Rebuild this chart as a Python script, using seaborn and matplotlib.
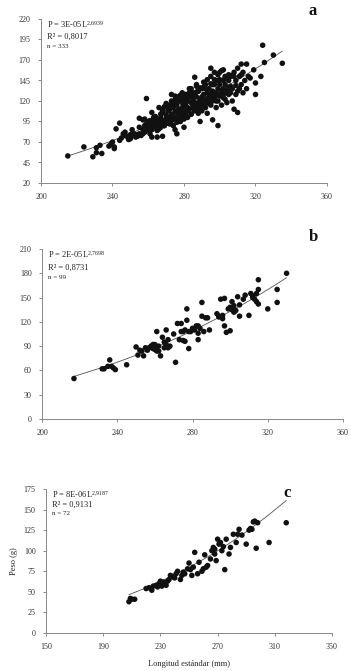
import numpy as np
import pandas as pd
import matplotlib
matplotlib.use("Agg")
import matplotlib.pyplot as plt
import seaborn as sns

# ---------------- data ----------------
# Panel a (n = 333)
a_len = [215,224,229,231,231,233,234,238,239,240,241,241,242,244,244,245,246,247,248,249,250,250,251,252,253,254,255,255,256,257,257,258,258,259,259,260,260,260,261,261,262,262,262,263,263,264,264,265,265,265,266,266,267,267,268,268,268,269,269,270,270,271,271,272,272,273,273,273,274,274,274,275,275,275,276,276,276,277,277,277,277,278,278,278,279,279,279,280,280,280,280,281,281,281,282,282,282,283,283,283,284,284,284,285,285,286,286,286,286,287,287,287,288,288,288,289,289,289,290,290,290,291,291,292,292,292,293,293,293,294,294,295,295,295,296,296,296,297,297,297,298,298,298,299,299,299,300,300,300,301,301,302,302,302,303,303,304,304,305,305,306,306,307,307,308,308,309,309,310,310,311,311,312,312,313,313,314,315,315,316,317,319,320,320,323,324,325,330,335,
         258,259,260,261,262,263,264,265,266,267,268,269,270,271,272,273,274,275,276,277,278,279,280,281,282,283,284,285,286,287,288,289,290,291,292,293,294,295,296,297,298,299,300,301,302,303,304,305,
         261,263,265,267,269,271,273,275,277,279,281,283,285,287,289,291,293,295,297,299,301,303,305,307,309,
         247,249,251,253,255,257,259,262,264,266,268,270,272,274,276,278,280,282,284,286,288,290,292,294,296,298,300,302,304,306,308,310,312]
a_wt = [53,64,52,57,63,66,56,65,67,70,62,64,86,93,72,75,80,78,77,76,74,79,78,80,79,77,80,99,78,80,97,82,90,84,123,86,90,94,88,96,76,85,92,89,100,90,94,87,98,76,92,97,100,88,95,106,77,113,90,98,103,93,108,100,110,96,104,128,90,112,118,100,107,85,80,115,125,98,104,110,120,95,108,127,100,112,118,88,105,115,122,108,117,128,100,112,120,110,125,130,104,118,135,112,122,108,118,128,149,115,125,138,105,118,132,112,122,95,108,125,135,118,128,112,122,140,105,118,130,125,135,115,128,160,120,132,97,125,140,155,112,130,145,120,135,90,128,140,155,115,130,135,145,158,122,140,118,132,128,145,138,150,120,135,155,110,128,145,160,106,135,150,140,165,130,155,145,165,135,150,148,158,128,142,150,188,167,176,166,
        98,84,95,80,106,89,101,84,112,93,108,90,117,97,92,120,102,126,94,121,103,130,98,125,108,135,104,130,112,140,110,136,115,143,118,146,117,150,122,146,120,152,126,157,124,150,130,152,
        88,97,85,104,96,113,99,121,107,124,103,127,115,131,118,137,123,141,127,145,133,148,136,151,139,
        82,73,85,76,88,85,92,88,98,86,110,95,115,98,118,100,128,110,126,113,132,119,135,121,140,127,146,128,148,130,150,132,152]

# Panel b (n = 99)
b_len = [217,232,233,235,236,237,238,239,245,250,251,252,253,254,255,256,257,258,259,260,260,261,261,262,263,264,265,266,266,267,267,270,271,272,273,274,274,275,276,276,277,277,278,278,280,281,282,283,283,284,285,285,286,287,288,289,293,294,295,296,296,297,297,298,299,300,300,301,302,302,303,304,305,305,307,308,310,311,312,313,314,314,315,315,315,320,325,325,330,
         259,262,265,268,275,279,283,294,301,312]
b_wt = [50,62,62,65,73,65,63,61,67,89,79,85,84,78,88,85,88,90,87,86,92,108,84,90,78,101,88,92,110,98,88,105,70,118,98,118,108,97,110,96,136,122,87,108,112,110,115,106,98,112,127,144,108,125,125,110,130,126,148,124,128,149,115,107,136,109,138,145,132,140,134,151,127,141,148,153,128,155,150,148,155,145,160,172,142,136,160,144,180,
        92,84,95,90,108,108,115,127,135,152]

# Panel c (n = 72)
c_len = [208,209,210,212,220,222,224,225,228,229,230,231,232,233,234,235,236,237,238,240,241,242,244,245,246,249,250,251,252,253,254,256,257,259,260,261,262,265,266,267,268,268,269,270,271,272,273,274,275,276,278,279,281,283,284,285,290,292,293,294,295,296,297,298,306,318,
         227,231,239,247,263,287]
c_wt = [38,42,41,41,54,55,52,57,56,60,63,57,62,60,58,63,65,70,69,67,72,75,65,70,74,78,85,77,70,80,98,72,86,75,78,95,80,90,100,104,96,102,88,114,108,110,100,105,77,114,96,104,120,110,120,126,108,125,127,126,135,136,103,134,110,134,
        58,61,68,72,82,119]

tick_a_x = [200, 240, 280, 320, 360]
tick_a_y = [20, 45, 70, 95, 120, 145, 170, 195, 220]
tick_b_x = [200, 240, 280, 320, 360]
tick_b_y = [0, 30, 60, 90, 120, 150, 180, 210]
tick_c_x = [150, 190, 230, 270, 310, 350]
tick_c_y = [0, 25, 50, 75, 100, 125, 150, 175]

eq_a = ["P = 3E-05L$^{2{,}6939}$", "R\u00b2 = 0,8017", "n = 333"]
eq_b = ["P = 2E-05L$^{2{,}7698}$", "R\u00b2 = 0,8731", "n = 99"]
eq_c = ["P = 8E-06L$^{2{,}9187}$", "R\u00b2 = 0,9131", "n = 72"]

# ---------------- style ----------------
sns.set_style("ticks")
plt.rcParams["font.family"] = ["Liberation Serif", "DejaVu Serif"]
plt.rcParams["mathtext.fontset"] = "custom"
plt.rcParams["mathtext.rm"] = "Liberation Serif"
plt.rcParams["mathtext.it"] = "Liberation Serif:italic"
plt.rcParams["mathtext.bf"] = "Liberation Serif:bold"

fig = plt.figure(figsize=(3.51, 6.71), dpi=100)

W, H = 351.0, 671.0
def ax_px(left, right, top, bottom):
    return fig.add_axes([left / W, 1 - bottom / H, (right - left) / W, (bottom - top) / H])

ax_a = ax_px(41, 327, 19, 183)
ax_b = ax_px(42, 343, 249, 419)
ax_c = ax_px(46, 332, 489, 633)

def panel(ax, xs, ys, xt, yt, eq, letter, letter_pos, fit_override=None):
    df = pd.DataFrame({"L": xs, "P": ys})
    sns.scatterplot(data=df, x="L", y="P", ax=ax, s=16, color="#111111",
                    edgecolor="none", linewidth=0, legend=False, zorder=3)
    # power regression in log space
    lx = np.log(df["L"].values); ly = np.log(df["P"].values)
    b, lnk = np.polyfit(lx, ly, 1)
    if fit_override is not None:
        k, b = fit_override
        lnk = np.log(k)
    xf = np.sort(np.unique(df["L"].values))
    fit = pd.DataFrame({"L": xf, "P": np.exp(lnk) * xf ** b})
    sns.lineplot(data=fit, x="L", y="P", ax=ax, color="#555555", linewidth=0.6, zorder=2)
    ax.set_xlim(xt[0], xt[-1]); ax.set_ylim(yt[0], yt[-1])
    ax.set_xticks(xt); ax.set_yticks(yt)
    ax.tick_params(axis="both", labelsize=5.8, length=2.5, width=0.6,
                   colors="#777777", labelcolor="#333333", pad=5)
    for s in ["top", "right"]:
        ax.spines[s].set_visible(False)
    for s in ["left", "bottom"]:
        ax.spines[s].set_color("#888888")
        ax.spines[s].set_linewidth(0.7)
    ax.set_xlabel(""); ax.set_ylabel("")
    ax.text(0.02, 1.0, eq[0], transform=ax.transAxes, fontsize=6, va="top", ha="left", color="#222222")
    ax.text(0.02, 0.915, eq[1], transform=ax.transAxes, fontsize=6, va="top", ha="left", color="#222222")
    ax.text(0.02, 0.845, eq[2], transform=ax.transAxes, fontsize=5, va="top", ha="left", color="#222222")
    ax.text(letter_pos[0], letter_pos[1], letter, transform=fig.transFigure,
            fontsize=12, fontweight="bold", ha="center", va="center", color="#111111")

panel(ax_a, a_len, a_wt, tick_a_x, tick_a_y, eq_a, "a", (313 / W, 1 - 11 / H))
panel(ax_b, b_len, b_wt, tick_b_x, tick_b_y, eq_b, "b", (313 / W, 1 - 237 / H))
panel(ax_c, c_len, c_wt, tick_c_x, tick_c_y, eq_c, "c", (287 / W, 1 - 493 / H),
      fit_override=(8e-6, 2.9187))

ax_c.set_ylabel("Peso (g)", fontsize=6, color="#222222", labelpad=4)
ax_c.set_xlabel("Longitud estándar (mm)", fontsize=6, color="#222222", labelpad=6)

fig.savefig("out.png", dpi=100)
